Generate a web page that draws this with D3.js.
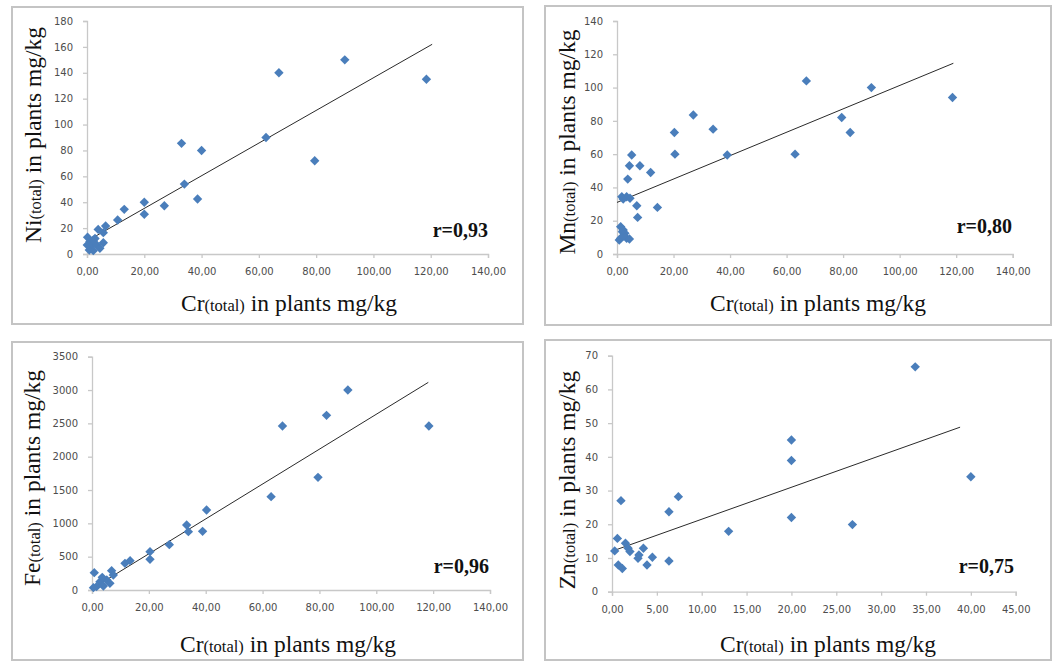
<!DOCTYPE html>
<html><head><meta charset="utf-8">
<script src="https://cdn.jsdelivr.net/npm/d3@7"></script>
<style>
html,body{margin:0;padding:0;background:#fff;}
svg{display:block;}
</style></head>
<body>
<svg id="chart" width="1055" height="662"></svg>
<script>
// ---------- DATA ----------
// Panel 1: Ni vs Cr
const crNi = [118.5, 90, 67, 62.5, 79.5, 33, 40, 34, 38.6, 27, 20, 20, 13, 10.7, 6.5, 3.9, 5.7, 5.7, 0.2, 1, 1.6, 2.2, 0.8, 2.8, 3.4, 0.1, 4.5, 2.2];
const ni   = [135, 150, 140, 90, 72, 85.5, 80, 54, 42.5, 37.3, 40, 30.7, 34.5, 26.3, 21.6, 19, 8.7, 16.5, 12.9, 9.5, 6.2, 2.6, 3, 12, 7, 7, 4.4, 10.8];
const trendNi = [[0, 10], [120.5, 162]];
// Panel 2: Mn vs Cr
const crMn = [67, 90, 118.7, 79.5, 82.5, 63, 39, 34, 27, 20.3, 20.5, 11.9, 8.1, 5.2, 4.4, 3.8, 7, 7.3, 14.3, 1.7, 3.4, 4.6, 2.2, 1.3, 1.9, 2.8, 1.3, 3.4, 4.4, 0.8, 2.2, 2.2];
const mn   = [104, 100, 94, 82, 73, 60, 59.5, 75, 83.5, 73, 60, 49, 53, 59.5, 53, 45, 29, 22, 28, 34.4, 34.4, 33.5, 33, 16.4, 13.4, 12.4, 9.4, 9.4, 9, 8.4, 10.8, 14.4];
const trendMn = [[0, 31], [119, 114.6]];
// Panel 3: Fe vs Cr
const crFe = [90, 82.5, 67, 118.5, 79.5, 63, 40.3, 33.3, 33.9, 38.9, 27.2, 20.4, 20.4, 13.4, 11.6, 6.9, 5.2, 7.5, 0.8, 2.8, 1.6, 0.5, 4, 6.3, 3.6];
const fe   = [3000, 2620, 2460, 2460, 1690, 1400, 1200, 975, 875, 880, 680, 575, 460, 440, 400, 290, 150, 225, 260, 125, 50, 35, 60, 100, 190];
const trendFe = [[0, 20], [118.3, 3115]];
// Panel 4: Zn vs Cr
const crZn = [33.8, 20, 20, 20, 40, 26.8, 13, 7.4, 6.35, 6.35, 1.0, 0.6, 0.3, 1.5, 1.8, 2.0, 3.5, 3.0, 2.9, 4.5, 3.9, 0.7, 1.15];
const zn   = [66.7, 45, 38.9, 22, 34.1, 19.9, 17.9, 28.2, 23.7, 9.1, 27, 15.8, 12.1, 14.4, 12.9, 11.9, 12.9, 10.9, 9.9, 10.2, 7.9, 7.9, 6.9];
const trendZn = [[0.2, 12.2], [38.8, 48.8]];

const rValues = ["r=0,93", "r=0,80", "r=0,96", "r=0,75"];
const yElements = ["Ni", "Mn", "Fe", "Zn"];
const xTicksA = [0, 20, 40, 60, 80, 100, 120, 140];
const xTicksB = [0, 5, 10, 15, 20, 25, 30, 35, 40, 45];
const yTicksNi = [0, 20, 40, 60, 80, 100, 120, 140, 160, 180];
const yTicksMn = [0, 20, 40, 60, 80, 100, 120, 140];
const yTicksFe = [0, 500, 1000, 1500, 2000, 2500, 3000, 3500];
const yTicksZn = [0, 10, 20, 30, 40, 50, 60, 70];

// ---------- LAYOUT ----------
const locale = d3.formatLocale({decimal: ",", thousands: ".", grouping: [3], currency: ["", ""]});
const fx = locale.format(".2f");
const fy = locale.format("d");

const svg = d3.select("#chart");

const panels = [
  {frame:[12,7,511,317], plot:{x0:87,x1:488,y0:254,y1:21}, xT:xTicksA, yT:yTicksNi, xs:crNi, ys:ni, trend:trendNi, r:rValues[0], el:yElements[0],
   yLab:[33,135], xLab:[289,311], rPos:[488,237]},
  {frame:[545,6,506,319], plot:{x0:617,x1:1012.7,y0:254,y1:21}, xT:xTicksA, yT:yTicksMn, xs:crMn, ys:mn, trend:trendMn, r:rValues[1], el:yElements[1],
   yLab:[567,142], xLab:[818,311], rPos:[1012,233]},
  {frame:[12,342,511,318], plot:{x0:92,x1:490,y0:590,y1:356.7}, xT:xTicksA, yT:yTicksFe, xs:crFe, ys:fe, trend:trendFe, r:rValues[2], el:yElements[2],
   yLab:[32,478], xLab:[288,652], rPos:[489,573]},
  {frame:[545,340,506,320], plot:{x0:612,x1:1015.7,y0:591.7,y1:355.7}, xT:xTicksB, yT:yTicksZn, xs:crZn, ys:zn, trend:trendZn, r:rValues[3], el:yElements[3],
   yLab:[567,480], xLab:[828,652], rPos:[1014,573]}
];

const tickFont = "DejaVu Sans, sans-serif";
const serif = "Liberation Serif, Times New Roman, serif";

panels.forEach(p => {
  const g = svg.append("g");
  g.append("rect").attr("x", p.frame[0]).attr("y", p.frame[1]).attr("width", p.frame[2]).attr("height", p.frame[3])
    .attr("fill", "#fff").attr("stroke", "#c4c4c4").attr("stroke-width", 2);

  const xs = d3.scaleLinear().domain([p.xT[0], p.xT[p.xT.length-1]]).range([p.plot.x0, p.plot.x1]);
  const ys = d3.scaleLinear().domain([p.yT[0], p.yT[p.yT.length-1]]).range([p.plot.y0, p.plot.y1]);

  const xAxis = d3.axisBottom(xs).tickValues(p.xT).tickFormat(fx).tickSize(4).tickPadding(10);
  const yAxis = d3.axisLeft(ys).tickValues(p.yT).tickFormat(fy).tickSize(4).tickPadding(10);

  const gx = g.append("g").attr("transform", `translate(0,${p.plot.y0})`).call(xAxis);
  const gy = g.append("g").attr("transform", `translate(${p.plot.x0},0)`).call(yAxis);
  [gx, gy].forEach(a => {
    a.select(".domain").attr("stroke", "#c8c8c8").attr("stroke-width", 1.3);
    a.selectAll(".tick line").attr("stroke", "#c8c8c8").attr("stroke-width", 1.3);
    a.selectAll(".tick text").attr("fill", "#4d4d4d").style("font-family", tickFont).style("font-size", "10px");
  });

  g.append("line")
    .attr("x1", xs(p.trend[0][0])).attr("y1", ys(p.trend[0][1]))
    .attr("x2", xs(p.trend[1][0])).attr("y2", ys(p.trend[1][1]))
    .attr("stroke", "#2a2a2a").attr("stroke-width", 1);

  const sym = d3.symbol().type(d3.symbolSquare).size(44);
  g.selectAll("path.pt").data(p.xs.map((x, i) => [x, p.ys[i]])).join("path")
    .attr("class", "pt")
    .attr("d", sym)
    .attr("transform", d => `translate(${xs(d[0])},${ys(d[1])}) rotate(45)`)
    .attr("fill", "#4a7ebb");

  g.append("text").attr("x", p.rPos[0]).attr("y", p.rPos[1]).attr("text-anchor", "end")
    .style("font-family", serif).style("font-weight", "bold").style("font-size", "20px").attr("fill", "#111")
    .text(p.r);

  const xt = g.append("text").attr("x", p.xLab[0]).attr("y", p.xLab[1]).attr("text-anchor", "middle")
    .style("font-family", serif).style("font-size", "23.5px").attr("fill", "#111");
  xt.append("tspan").text("Cr");
  xt.append("tspan").style("font-size", "16.5px").text("(total)");
  xt.append("tspan").text(" in plants mg/kg");

  const yt = g.append("text").attr("transform", `translate(${p.yLab[0]},${p.yLab[1]}) rotate(-90)`)
    .attr("text-anchor", "middle").attr("dy", "0.35em")
    .style("font-family", serif).style("font-size", "23.5px").attr("fill", "#111");
  yt.append("tspan").text(p.el);
  yt.append("tspan").style("font-size", "16.5px").text("(total)");
  yt.append("tspan").text(" in plants mg/kg");
});
</script>
</body></html>
